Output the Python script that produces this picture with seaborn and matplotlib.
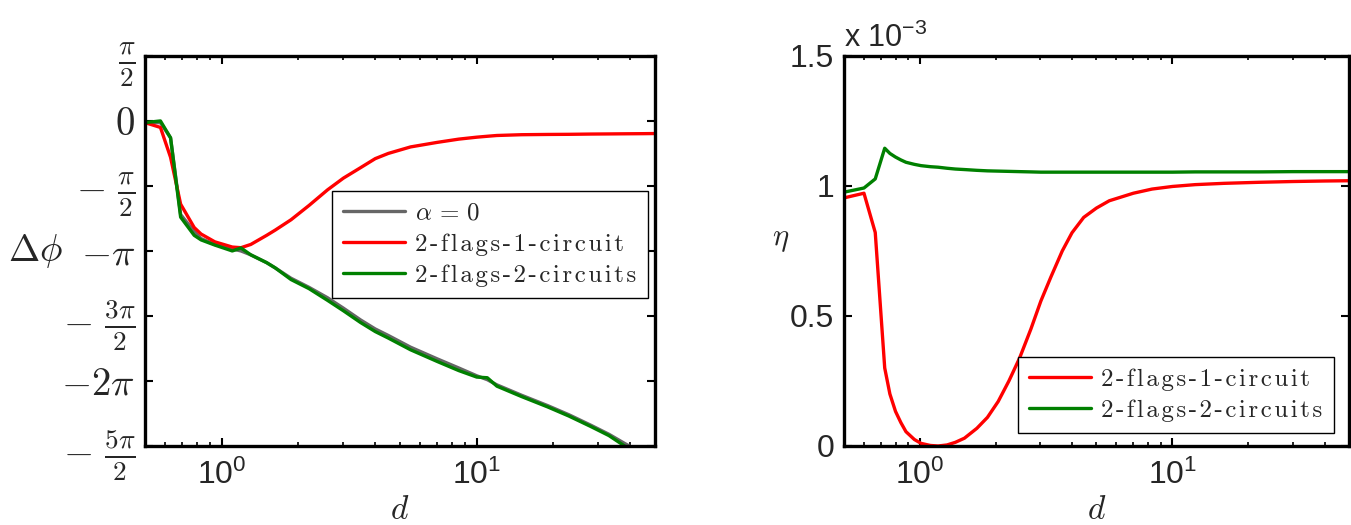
import numpy as np
import pandas as pd
import matplotlib
matplotlib.use("Agg")
import matplotlib.pyplot as plt
from matplotlib.font_manager import FontProperties
import seaborn as sns

# phase difference panel (values in units of pi)
d_phase = [0.5, 0.575, 0.63, 0.69, 0.78, 0.83, 0.94, 1.1, 1.19, 1.3, 1.5, 1.62, 1.87,
           2.2, 2.6, 3.0, 3.5, 4.0, 4.5, 5.5, 7.0, 8.5, 10.0, 11.0, 12.0, 15.0, 19.0,
           23.0, 28.0, 33.0, 38.0, 45.0, 50.0]
phase_alpha0 = [-0.013, -0.013, -0.13, -0.72, -0.85, -0.905, -0.95, -0.985, -1.0, -1.03,
                -1.09, -1.13, -1.21, -1.28, -1.36, -1.44, -1.53, -1.60, -1.65, -1.74,
                -1.83, -1.90, -1.96, -1.99, -2.03, -2.11, -2.19, -2.26, -2.34, -2.41,
                -2.48, -2.56, -2.61]
phase_1circ = [-0.013, -0.05, -0.28, -0.64, -0.82, -0.87, -0.93, -0.97, -0.975, -0.95,
               -0.88, -0.84, -0.76, -0.65, -0.53, -0.44, -0.36, -0.29, -0.25, -0.20,
               -0.165, -0.14, -0.125, -0.118, -0.112, -0.106, -0.104, -0.103, -0.101,
               -0.1, -0.099, -0.098, -0.097]
phase_2circ = [-0.013, 0.0, -0.13, -0.74, -0.88, -0.915, -0.955, -1.0, -0.977, -1.03,
               -1.09, -1.13, -1.22, -1.29, -1.38, -1.46, -1.55, -1.62, -1.67, -1.76,
               -1.85, -1.92, -1.97, -1.975, -2.04, -2.12, -2.20, -2.27, -2.35, -2.42,
               -2.50, -2.57, -2.62]

# efficiency panel (values in units of 1e-3)
d_eta = [0.5, 0.6, 0.665, 0.725, 0.76, 0.8, 0.84, 0.88, 0.95, 1.01, 1.1, 1.18, 1.28,
         1.38, 1.5, 1.68, 1.85, 2.04, 2.25, 2.48, 2.75, 3.01, 3.3, 3.66, 4.0, 4.45, 5.0,
         5.62, 7.0, 8.3, 10.0, 12.3, 16.0, 22.0, 30.0, 40.0, 50.0]
eta_1circ = [0.954, 0.972, 0.821, 0.30, 0.20, 0.133, 0.09, 0.055, 0.025, 0.01, 0.002,
             0.0, 0.004, 0.014, 0.03, 0.068, 0.11, 0.171, 0.25, 0.338, 0.45, 0.557, 0.65,
             0.75, 0.82, 0.879, 0.915, 0.943, 0.972, 0.988, 0.998, 1.005, 1.01, 1.014,
             1.017, 1.019, 1.02]
eta_2circ = [0.976, 0.992, 1.027, 1.145, 1.125, 1.111, 1.10, 1.091, 1.083, 1.078, 1.074,
             1.072, 1.068, 1.065, 1.063, 1.06, 1.058, 1.057, 1.056, 1.055, 1.054, 1.053,
             1.053, 1.053, 1.053, 1.053, 1.053, 1.053, 1.053, 1.053, 1.053, 1.054, 1.054,
             1.054, 1.055, 1.055, 1.055]

phase_ticks = [-2.5, -2.0, -1.5, -1.0, -0.5, 0.0, 0.5]
phase_ticklabels = [r'$-\ \frac{5\pi}{2}$', r'$-2\pi$', r'$-\ \frac{3\pi}{2}$', r'$-\pi$',
                    r'$-\ \frac{\pi}{2}$', r'$0$', r'$\frac{\pi}{2}$']
eta_ticks = [0, 0.5, 1, 1.5]
eta_ticklabels = ['0', '0.5', '1', '1.5']


def spaced(s):
    # legend text in the original is letter-spaced
    return '\u200a'.join(s)


sns.set_style("ticks")
plt.rcParams['font.family'] = ['Liberation Sans', 'DejaVu Sans']
plt.rcParams['mathtext.fontset'] = 'custom'
plt.rcParams['mathtext.rm'] = 'Liberation Sans'
plt.rcParams['mathtext.it'] = 'Liberation Sans:italic'

GREY = '#666666'
RED = '#ff0000'
GREEN = '#008000'
LW = 2.4

fig = plt.figure(figsize=(13.51, 5.25), dpi=100)
ax1 = fig.add_axes([0.1073, 0.1505, 0.3775, 0.743])
ax2 = fig.add_axes([0.6247, 0.1505, 0.3738, 0.743])

for ax in (ax1, ax2):
    ax.set_xscale('log')

sns.lineplot(x=d_phase, y=np.pi * np.array(phase_alpha0), ax=ax1, color=GREY, lw=LW,
             label=r'$\alpha\,=\,0$', sort=False)
sns.lineplot(x=d_phase, y=np.pi * np.array(phase_1circ), ax=ax1, color=RED, lw=LW,
             label=spaced('2-flags-1-circuit'), sort=False)
sns.lineplot(x=d_phase, y=np.pi * np.array(phase_2circ), ax=ax1, color=GREEN, lw=LW,
             label=spaced('2-flags-2-circuits'), sort=False)

sns.lineplot(x=d_eta, y=eta_1circ, ax=ax2, color=RED, lw=LW,
             label=spaced('2-flags-1-circuit'), sort=False)
sns.lineplot(x=d_eta, y=eta_2circ, ax=ax2, color=GREEN, lw=LW,
             label=spaced('2-flags-2-circuits'), sort=False)

ax1.set_ylim(-2.5 * np.pi, 0.5 * np.pi)
ax1.set_yticks(np.pi * np.array(phase_ticks))
ax1.set_yticklabels(phase_ticklabels, math_fontfamily='cm', fontsize=28)
ax2.set_ylim(0, 1.5)
ax2.set_yticks(eta_ticks)
ax2.set_yticklabels(eta_ticklabels, fontsize=23)

for ax in (ax1, ax2):
    ax.set_xlim(0.5, 50)
    ax.set_xticks([1, 10])
    ax.set_xticklabels([r'$10^{0}$', r'$10^{1}$'], fontsize=23)
    ax.tick_params(which='both', direction='in', top=True, right=True, color='black')
    ax.tick_params(which='major', length=6, width=1.5)
    ax.tick_params(which='minor', length=3, width=1.2)
    ax.tick_params(axis='x', which='major', pad=10)
    ax.tick_params(axis='y', which='major', pad=7)
    for sp in ax.spines.values():
        sp.set_visible(True)
        sp.set_linewidth(2.4)
        sp.set_color('black')
    ax.set_xlabel(r'$d$', math_fontfamily='cm', fontsize=24)
    ax.xaxis.set_label_coords(0.5, -0.125)

ax1.set_ylabel(r'$\Delta\phi$', math_fontfamily='cm', fontsize=27, rotation=0,
               va='center', ha='center')
ax1.yaxis.set_label_coords(-0.215, 0.5)
ax2.set_ylabel(r'$\eta$', math_fontfamily='cm', fontsize=22, rotation=0,
               va='center', ha='center')
ax2.yaxis.set_label_coords(-0.125, 0.53)

ax2.text(0.0, 1.005, r'x 10$^{-3}$', transform=ax2.transAxes, fontsize=22,
         ha='left', va='bottom')

leg_font = FontProperties(family=['cmr10', 'DejaVu Serif'], size=18, math_fontfamily='cm')
for ax, loc, anchor in ((ax1, 'upper right', (0.986, 0.654)),
                        (ax2, 'lower right', (0.970, 0.033))):
    leg = ax.legend(loc=loc, bbox_to_anchor=anchor, prop=leg_font, frameon=True,
                    fancybox=False, framealpha=1, edgecolor='black',
                    handlelength=2.5, borderaxespad=0, borderpad=0.45,
                    labelspacing=0.35, handletextpad=0.4)
    leg.get_frame().set_linewidth(1.0)

fig.savefig('out.png', dpi=100)
